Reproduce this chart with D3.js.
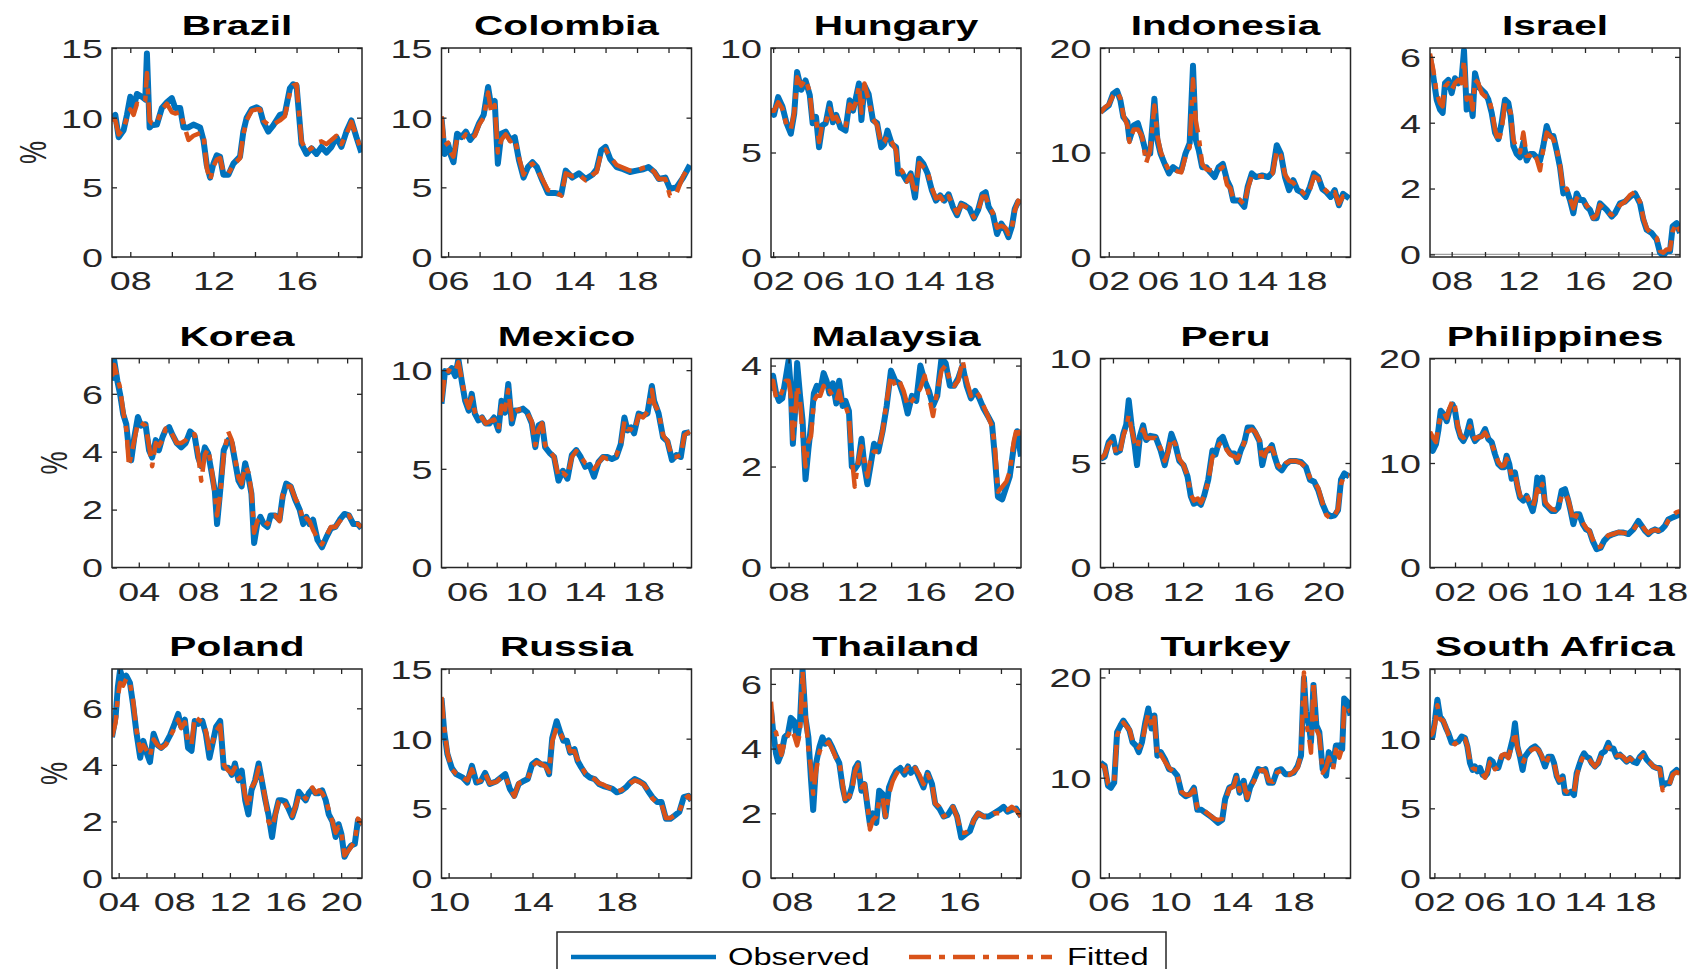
<!DOCTYPE html>
<html>
<head>
<meta charset="utf-8">
<script src="https://cdn.jsdelivr.net/npm/d3@7"></script>
<style>
  body { margin: 0; background: #fff; }
  svg { display: block; }
  text { font-family: "Liberation Sans", Arial, Helvetica, sans-serif; }
</style>
</head>
<body>
<div class="chart"></div>
<script>
// Observed vs fitted, 15 countries (%)

var countries = ["Brazil", "Colombia", "Hungary", "Indonesia", "Israel",
  "Korea", "Mexico", "Malaysia", "Peru", "Philippines",
  "Poland", "Russia", "Thailand", "Turkey", "South Africa"];

var xDomains = [[2007.12, 2019.15], [2005.58, 2021.46], [2001.83, 2021.76], [2001.33, 2021.6], [2006.7, 2021.7],
  [2002.2, 2019.0], [2004.24, 2021.27], [2006.97, 2021.6], [2007.29, 2021.54], [2000.11, 2019.0],
  [2003.52, 2021.5], [2009.66, 2021.58], [2006.99, 2018.96], [2005.46, 2021.73], [2001.65, 2021.6]];

var yDomains = [[0, 15], [0, 15], [0, 10], [0, 20], [-0.08, 6.27],
  [0, 7.22], [0, 10.59], [0, 4.14], [0, 10], [0, 20],
  [0, 7.39], [0, 15], [0, 6.46], [0, 20.84], [0, 15]];

var yTicks = [[0, 5, 10, 15], [0, 5, 10, 15], [0, 5, 10], [0, 10, 20], [0, 2, 4, 6],
  [0, 2, 4, 6], [0, 5, 10], [0, 2, 4], [0, 5, 10], [0, 10, 20],
  [0, 2, 4, 6], [0, 5, 10, 15], [0, 2, 4, 6], [0, 10, 20], [0, 5, 10, 15]];

// years that carry a label (ticks every 2 years)
var xLabelYears = [[2008, 2012, 2016], [2006, 2010, 2014, 2018], [2002, 2006, 2010, 2014, 2018],
  [2002, 2006, 2010, 2014, 2018], [2008, 2012, 2016, 2020],
  [2004, 2008, 2012, 2016], [2006, 2010, 2014, 2018], [2008, 2012, 2016, 2020],
  [2008, 2012, 2016, 2020], [2002, 2006, 2010, 2014, 2018],
  [2004, 2008, 2012, 2016, 2020], [2010, 2014, 2018], [2008, 2012, 2016],
  [2006, 2010, 2014, 2018], [2002, 2006, 2010, 2014, 2018]];

var legendLabels = ["Observed", "Fitted"];

// [year, observed, fitted]
var brazil = [[2007.12,10.0,9.9],[2007.28,10.2,9.8],[2007.44,8.6,8.8],[2007.68,9.1,9.2],[2007.84,10.2,10.0],
  [2008.0,11.5,10.6],[2008.16,10.7,10.2],[2008.32,11.7,11.0],[2008.56,11.5,10.9],[2008.72,11.3,11.2],
  [2008.8,14.6,13.2],[2008.93,9.3,9.8],[2009.04,9.45,9.6],[2009.28,9.5,9.6],[2009.52,10.7,10.6],
  [2009.76,11.1,11.0],[2010.0,11.4,10.4],[2010.16,10.7,10.3],[2010.4,10.7,10.4],[2010.56,9.3,9.6],
  [2010.8,9.3,8.4],[2011.04,9.5,8.7],[2011.36,9.3,8.9],[2011.52,8.4,8.8],[2011.68,6.6,6.4],
  [2011.84,5.7,5.5],[2012.0,6.7,6.5],[2012.16,7.3,7.0],[2012.32,7.2,7.1],[2012.48,5.9,6.1],
  [2012.72,5.9,6.0],[2012.96,6.7,6.6],[2013.28,7.2,7.1],[2013.44,9.0,8.8],[2013.6,10.0,9.8],
  [2013.84,10.6,10.5],[2014.08,10.75,10.6],[2014.24,10.6,10.6],[2014.4,9.7,9.8],[2014.64,9.0,9.5],
  [2014.88,9.45,9.5],[2015.2,10.2,9.8],[2015.44,10.3,10.1],[2015.68,12.1,11.8],[2015.84,12.4,12.3],
  [2016.0,12.3,12.4],[2016.24,8.1,8.3],[2016.48,7.4,7.6],[2016.72,7.8,7.8],[2016.96,7.4,8.2],
  [2017.2,7.9,8.3],[2017.44,7.5,8.1],[2017.68,7.9,8.4],[2017.92,8.6,8.7],[2018.16,7.9,8.1],
  [2018.4,9.0,8.8],[2018.64,9.8,9.7],[2018.88,8.6,8.7],[2019.12,7.5,7.6]];

var colombia = [[2005.58,10.0,10.1],[2005.78,7.4,8.0],[2006.0,8.1,8.2],[2006.17,7.3,7.5],[2006.34,6.8,7.2],
  [2006.57,8.85,8.5],[2006.85,8.6,8.4],[2007.13,9.0,8.8],[2007.4,8.4,8.5],[2007.7,8.85,8.7],
  [2007.97,9.6,9.5],[2008.26,10.2,10.0],[2008.54,12.2,11.8],[2008.74,10.8,10.4],[2008.96,11.2,10.9],
  [2009.16,6.7,7.5],[2009.38,8.85,8.4],[2009.66,9.0,8.8],[2009.95,8.4,8.3],[2010.23,8.6,8.5],
  [2010.51,6.9,7.1],[2010.79,5.7,5.9],[2011.07,6.45,6.5],[2011.36,6.8,6.7],[2011.64,6.45,6.3],
  [2011.98,5.5,5.6],[2012.34,4.6,4.8],[2012.76,4.6,4.7],[2013.19,4.5,4.4],[2013.47,6.2,6.0],
  [2013.89,5.7,5.8],[2014.31,6.0,5.9],[2014.74,5.6,5.5],[2015.16,5.9,5.9],[2015.44,6.3,6.1],
  [2015.72,7.65,7.5],[2016.0,7.9,7.7],[2016.29,7.05,7.2],[2016.71,6.45,6.6],[2017.13,6.3,6.4],
  [2017.55,6.1,6.2],[2017.97,6.2,6.2],[2018.4,6.3,6.4],[2018.73,6.45,6.5],[2019.1,6.1,6.1],
  [2019.38,5.6,5.6],[2019.8,5.7,5.6],[2020.09,4.9,4.4],[2020.51,5.0,4.6],[2020.93,5.7,5.8],
  [2021.36,6.6,6.6]];

var hungary = [[2001.83,7.1,7.0],[2002.07,6.8,7.0],[2002.4,7.65,7.4],[2002.74,7.2,7.1],[2003.07,6.4,6.3],
  [2003.41,5.9,6.1],[2003.68,6.85,6.9],[2003.91,8.85,8.6],[2004.25,8.0,8.2],[2004.58,8.45,8.5],
  [2004.92,7.75,7.9],[2005.15,6.4,6.5],[2005.42,6.7,6.6],[2005.66,5.25,5.5],[2005.92,6.3,6.4],
  [2006.19,6.4,6.4],[2006.5,7.35,7.1],[2006.76,6.45,6.6],[2007.03,6.8,6.7],[2007.37,6.2,6.3],
  [2007.77,6.05,6.2],[2008.1,7.5,7.3],[2008.37,7.0,7.1],[2008.61,7.65,7.4],[2008.84,8.3,8.2],
  [2009.04,6.55,6.9],[2009.28,8.2,8.3],[2009.61,7.8,7.5],[2009.95,6.55,6.6],[2010.29,6.4,6.3],
  [2010.62,5.25,5.4],[2010.86,5.4,5.5],[2011.12,6.05,5.8],[2011.46,5.4,5.5],[2011.8,5.25,5.1],
  [2011.97,4.0,4.3],[2012.3,4.0,4.1],[2012.64,3.65,3.6],[2012.97,4.0,3.9],[2013.31,2.85,3.0],
  [2013.64,4.7,4.5],[2013.98,4.45,4.3],[2014.31,4.0,4.1],[2014.65,3.2,3.3],[2014.98,2.7,2.8],
  [2015.32,2.95,2.9],[2015.65,2.7,2.6],[2015.99,3.0,2.9],[2016.33,2.4,2.5],[2016.66,2.0,2.1],
  [2017.0,2.55,2.5],[2017.33,2.45,2.4],[2017.67,2.3,2.3],[2018.0,1.85,1.9],[2018.34,2.25,2.2],
  [2018.68,3.0,2.9],[2018.94,3.1,2.9],[2019.18,2.4,2.5],[2019.52,2.05,2.1],[2019.85,1.1,1.4],
  [2020.19,1.6,1.5],[2020.52,1.3,1.4],[2020.76,0.95,1.1],[2021.03,1.45,1.4],[2021.26,2.3,2.2],
  [2021.53,2.65,2.7],[2021.76,2.55,2.6]];

var indonesia = [[2001.33,13.9,13.8],[2001.67,14.2,14.3],[2002.0,14.5,14.6],[2002.34,15.6,15.4],[2002.67,15.9,15.8],
  [2002.94,15.0,15.2],[2003.18,13.4,13.6],[2003.51,12.9,12.6],[2003.68,11.2,11.0],[2004.02,12.6,12.2],
  [2004.36,12.8,12.2],[2004.69,11.5,11.6],[2005.03,9.9,9.0],[2005.36,9.9,10.2],[2005.7,15.15,14.5],
  [2005.94,11.2,11.6],[2006.2,9.9,10.1],[2006.54,8.9,9.1],[2006.88,8.0,8.3],[2007.21,8.6,8.4],
  [2007.55,8.3,8.2],[2007.88,8.3,8.1],[2008.22,9.9,9.6],[2008.56,10.9,10.5],[2008.83,18.3,17.0],
  [2009.06,11.2,13.0],[2009.3,10.2,11.5],[2009.57,8.6,8.9],[2009.9,8.6,8.4],[2010.24,8.1,8.3],
  [2010.58,7.65,8.2],[2010.91,8.6,8.3],[2011.25,8.9,8.6],[2011.59,7.35,6.9],[2011.85,6.7,6.6],
  [2012.09,5.4,5.6],[2012.59,5.4,5.5],[2012.99,4.8,5.0],[2013.26,6.7,6.5],[2013.6,8.0,7.8],
  [2013.93,7.65,7.8],[2014.44,7.8,7.7],[2014.94,7.65,7.7],[2015.28,8.1,8.0],[2015.62,10.7,10.2],
  [2015.95,9.9,9.7],[2016.29,7.65,7.9],[2016.62,6.4,7.3],[2016.96,7.35,7.1],[2017.3,6.4,6.6],
  [2017.63,6.2,6.3],[2017.97,5.75,5.9],[2018.31,6.7,6.5],[2018.64,8.0,7.7],[2018.98,7.65,7.5],
  [2019.32,6.5,6.7],[2019.65,6.2,6.3],[2019.99,5.75,5.9],[2020.32,6.4,6.2],[2020.66,4.95,5.1],
  [2021.0,6.05,5.8],[2021.5,5.6,5.6]];

var israel = [[2006.7,6.0,6.1],[2006.9,5.4,5.6],[2007.1,4.7,4.9],[2007.3,4.4,4.6],[2007.46,4.3,4.5],
  [2007.6,5.2,5.1],[2007.8,5.3,5.2],[2008.0,4.9,5.0],[2008.2,5.35,5.2],[2008.4,5.2,5.3],
  [2008.6,5.35,5.2],[2008.74,6.2,5.9],[2008.9,4.4,4.7],[2009.1,4.8,4.9],[2009.26,4.2,4.4],
  [2009.4,5.5,5.3],[2009.6,5.1,5.2],[2009.8,5.0,4.9],[2010.0,4.9,4.8],[2010.2,4.7,4.8],
  [2010.4,4.3,4.4],[2010.6,3.7,3.8],[2010.8,3.5,3.4],[2011.0,4.0,3.8],[2011.2,4.7,4.6],
  [2011.4,4.6,4.5],[2011.54,4.2,4.3],[2011.7,3.3,3.5],[2011.9,3.05,3.2],[2012.1,2.95,3.1],
  [2012.3,3.4,3.7],[2012.5,2.85,3.0],[2012.7,3.05,3.0],[2012.9,3.05,3.1],[2013.1,2.95,2.9],
  [2013.3,2.85,2.55],[2013.5,3.3,3.2],[2013.7,3.9,3.7],[2013.9,3.6,3.6],[2014.1,3.6,3.5],
  [2014.3,3.15,3.2],[2014.5,2.65,2.7],[2014.7,1.85,1.9],[2014.9,1.95,2.0],[2015.1,1.65,1.7],
  [2015.3,1.25,1.4],[2015.5,1.85,1.7],[2015.7,1.65,1.6],[2015.9,1.65,1.6],[2016.1,1.45,1.5],
  [2016.3,1.35,1.3],[2016.5,1.1,1.1],[2016.7,1.1,1.2],[2016.9,1.55,1.5],[2017.1,1.45,1.4],
  [2017.3,1.35,1.3],[2017.6,1.15,1.2],[2017.8,1.25,1.3],[2018.1,1.55,1.5],[2018.4,1.6,1.6],
  [2018.7,1.75,1.8],[2019.0,1.85,1.9],[2019.3,1.55,1.6],[2019.5,1.05,1.1],[2019.7,0.75,0.8],
  [2020.0,0.65,0.6],[2020.3,0.45,0.5],[2020.5,0.05,0.1],[2020.7,-0.05,0.05],[2020.9,0.1,0.15],
  [2021.1,0.1,0.15],[2021.26,0.85,0.7],[2021.5,0.95,0.95],[2021.7,0.65,0.7]];

var korea = [[2002.2,6.45,6.6],[2002.35,7.15,7.0],[2002.56,6.45,6.6],[2002.74,6.0,6.2],[2002.95,5.3,5.4],
  [2003.16,4.95,4.8],[2003.34,4.05,3.5],[2003.49,3.7,3.9],[2003.7,4.5,4.4],[2003.94,5.2,5.0],
  [2004.15,4.9,5.0],[2004.45,4.95,4.9],[2004.69,4.05,4.2],[2004.9,3.8,3.5],[2005.14,4.4,4.3],
  [2005.35,4.05,4.2],[2005.59,4.5,4.4],[2005.8,4.75,4.8],[2006.04,4.85,4.8],[2006.25,4.6,4.6],
  [2006.55,4.3,4.3],[2006.85,4.15,4.3],[2007.15,4.3,4.4],[2007.45,4.7,4.6],[2007.75,4.55,4.6],
  [2007.99,3.8,3.9],[2008.2,3.5,3.0],[2008.44,4.15,3.9],[2008.66,3.95,4.1],[2008.87,3.35,3.5],
  [2009.11,2.65,2.5],[2009.26,1.5,1.8],[2009.47,2.65,2.5],[2009.71,4.05,3.9],[2010.01,4.4,4.7],
  [2010.25,4.3,4.4],[2010.46,3.7,3.8],[2010.7,3.0,3.1],[2010.91,2.8,2.9],[2011.15,3.6,3.5],
  [2011.36,3.15,3.3],[2011.57,2.55,2.6],[2011.75,0.85,1.2],[2011.96,1.5,1.6],[2012.17,1.75,1.7],
  [2012.41,1.5,1.6],[2012.65,1.4,1.5],[2012.86,1.8,1.7],[2013.16,1.8,1.8],[2013.46,1.65,1.6],
  [2013.67,2.45,2.5],[2013.91,2.9,2.8],[2014.21,2.8,2.8],[2014.51,2.35,2.4],[2014.81,2.0,2.1],
  [2015.05,1.5,1.6],[2015.26,1.75,1.7],[2015.47,1.5,1.6],[2015.71,1.65,1.3],[2016.01,0.95,1.0],
  [2016.31,0.7,0.8],[2016.61,1.05,1.1],[2016.91,1.35,1.4],[2017.21,1.4,1.4],[2017.51,1.65,1.6],
  [2017.82,1.85,1.8],[2018.12,1.8,1.8],[2018.42,1.5,1.5],[2018.72,1.5,1.5],[2018.96,1.35,1.4]];

var mexico = [[2004.24,8.3,8.4],[2004.48,9.95,9.8],[2004.72,9.9,10.0],[2004.94,10.1,9.9],[2005.18,9.7,9.9],
  [2005.39,10.55,10.4],[2005.63,9.4,9.5],[2005.85,8.45,8.6],[2006.09,7.95,8.1],[2006.3,8.8,8.6],
  [2006.51,7.8,7.9],[2006.76,7.45,7.5],[2007.0,7.6,7.6],[2007.24,7.3,7.3],[2007.51,7.3,7.4],
  [2007.82,7.6,7.5],[2008.12,6.95,7.0],[2008.33,8.45,8.2],[2008.57,7.85,8.0],[2008.79,9.3,9.0],
  [2009.03,7.3,7.5],[2009.24,7.95,7.9],[2009.48,7.95,8.0],[2009.79,8.05,8.0],[2010.09,7.85,7.8],
  [2010.39,7.3,7.4],[2010.63,6.1,6.2],[2010.85,7.2,7.0],[2011.09,7.3,7.3],[2011.3,6.1,6.2],
  [2011.61,5.8,5.9],[2011.91,5.6,5.6],[2012.21,4.4,4.6],[2012.51,4.9,4.8],[2012.82,4.5,4.6],
  [2013.12,5.7,5.6],[2013.42,5.95,5.9],[2013.72,5.6,5.6],[2014.03,5.1,5.3],[2014.33,5.2,5.2],
  [2014.63,4.6,5.0],[2014.94,5.35,5.3],[2015.24,5.6,5.6],[2015.54,5.6,5.5],[2015.85,5.5,5.6],
  [2016.15,5.6,5.7],[2016.45,6.25,6.2],[2016.7,7.6,7.4],[2016.91,6.95,7.0],[2017.15,7.1,7.0],
  [2017.36,6.8,6.9],[2017.67,7.8,7.7],[2017.97,7.7,7.6],[2018.27,7.8,7.9],[2018.57,9.2,9.0],
  [2018.72,8.45,8.3],[2019.03,7.8,7.9],[2019.33,6.6,6.7],[2019.63,6.4,6.4],[2019.94,5.45,5.6],
  [2020.24,5.7,5.6],[2020.54,5.6,5.7],[2020.79,6.8,6.7],[2021.15,6.85,6.9]];

var malaysia = [[2006.97,3.5,3.6],[2007.09,3.8,3.7],[2007.27,3.45,3.35],[2007.44,3.3,3.35],[2007.63,3.35,3.5],
  [2007.83,3.75,3.7],[2008.0,4.1,3.7],[2008.13,3.55,3.4],[2008.25,2.45,2.55],[2008.37,3.05,2.9],
  [2008.5,4.05,3.6],[2008.67,3.4,3.3],[2008.82,2.9,2.6],[2008.99,1.75,2.0],[2009.16,2.35,2.5],
  [2009.31,2.8,2.6],[2009.48,3.45,3.3],[2009.65,3.6,3.4],[2009.85,3.5,3.4],[2010.05,3.85,3.6],
  [2010.22,3.7,3.45],[2010.39,3.45,3.5],[2010.59,3.65,3.4],[2010.79,3.25,3.3],[2010.96,3.7,3.5],
  [2011.16,3.2,3.2],[2011.33,3.3,3.2],[2011.53,3.1,3.0],[2011.7,2.0,2.2],[2011.87,1.95,1.6],
  [2012.07,2.05,2.1],[2012.27,2.55,2.4],[2012.44,2.0,2.1],[2012.61,1.65,1.8],[2012.81,2.05,2.2],
  [2013.0,2.45,2.3],[2013.25,2.3,2.3],[2013.5,2.7,2.7],[2013.74,3.2,3.3],[2013.99,3.9,3.8],
  [2014.24,3.7,3.6],[2014.48,3.65,3.7],[2014.73,3.4,3.5],[2014.97,3.05,3.2],[2015.22,3.4,3.3],
  [2015.47,3.3,3.4],[2015.71,4.0,3.55],[2015.96,3.7,3.8],[2016.21,3.5,3.4],[2016.45,3.2,3.0],
  [2016.7,3.4,3.5],[2016.95,4.15,3.9],[2017.19,4.05,4.0],[2017.44,3.6,3.7],[2017.69,3.6,3.6],
  [2017.93,3.75,3.7],[2018.18,4.0,4.1],[2018.42,3.6,3.7],[2018.67,3.35,3.4],[2018.92,3.5,3.5],
  [2019.16,3.35,3.4],[2019.41,3.15,3.2],[2019.66,3.0,3.0],[2019.9,2.85,2.8],[2020.07,2.2,2.4],
  [2020.25,1.4,1.5],[2020.5,1.35,1.6],[2020.74,1.6,1.7],[2020.94,1.8,1.9],[2021.18,2.4,2.5],
  [2021.38,2.7,2.8],[2021.6,2.2,2.5]];

var peru = [[2007.29,5.2,5.2],[2007.53,5.3,5.4],[2007.76,6.0,5.9],[2008.0,6.25,6.1],[2008.19,5.5,5.4],
  [2008.4,5.6,5.5],[2008.59,6.4,6.3],[2008.76,6.85,6.7],[2008.9,8.0,7.3],[2009.06,6.8,6.6],
  [2009.23,5.9,6.0],[2009.37,4.9,5.7],[2009.54,6.3,6.2],[2009.72,6.8,6.6],[2009.89,6.1,6.2],
  [2010.13,6.3,6.2],[2010.43,6.25,6.2],[2010.72,5.6,5.7],[2010.95,4.9,5.1],[2011.14,5.6,5.5],
  [2011.33,6.4,6.2],[2011.55,5.9,5.9],[2011.78,5.1,5.2],[2012.02,4.9,4.9],[2012.25,4.35,4.4],
  [2012.44,3.4,3.5],[2012.61,3.05,3.2],[2012.84,3.15,3.3],[2013.01,3.0,3.1],[2013.2,3.45,3.4],
  [2013.43,4.2,4.1],[2013.67,5.6,5.3],[2013.84,5.4,5.5],[2014.07,6.1,5.9],[2014.26,6.25,6.0],
  [2014.5,5.7,5.6],[2014.69,5.45,5.4],[2014.92,5.45,5.3],[2015.09,5.05,5.2],[2015.28,5.6,5.5],
  [2015.49,6.0,6.0],[2015.68,6.7,6.5],[2015.92,6.7,6.6],[2016.11,6.45,6.5],[2016.35,6.05,6.1],
  [2016.51,4.9,5.1],[2016.7,5.6,5.5],[2016.87,5.6,5.7],[2017.06,5.85,5.7],[2017.22,5.3,5.4],
  [2017.41,4.8,4.9],[2017.62,4.65,4.7],[2017.86,4.95,5.0],[2018.1,5.1,5.1],[2018.4,5.1,5.1],
  [2018.71,5.05,5.0],[2019.0,4.8,4.8],[2019.23,4.2,4.3],[2019.47,4.1,4.1],[2019.7,3.7,3.8],
  [2019.94,3.05,3.1],[2020.17,2.6,2.5],[2020.41,2.45,2.35],[2020.64,2.5,2.5],[2020.83,2.75,2.8],
  [2021.0,4.2,4.0],[2021.19,4.5,4.4],[2021.47,4.35,4.4]];

var philippines = [[2000.11,12.75,13.0],[2000.31,11.15,12.5],[2000.56,11.8,12.0],[2000.74,13.1,13.5],[2000.92,15.0,14.5],
  [2001.17,14.65,14.8],[2001.37,14.0,14.3],[2001.57,15.0,15.2],[2001.82,15.6,16.0],[2002.0,15.0,15.4],
  [2002.2,13.4,13.6],[2002.43,12.45,12.6],[2002.63,12.1,12.4],[2002.88,12.75,12.6],[2003.13,14.0,13.5],
  [2003.33,12.6,12.8],[2003.51,12.1,12.3],[2003.76,12.45,12.5],[2004.01,12.6,12.5],[2004.27,13.25,12.9],
  [2004.52,12.3,12.4],[2004.77,12.0,11.8],[2005.02,10.85,11.0],[2005.27,9.9,10.1],[2005.53,9.6,9.7],
  [2005.73,9.6,9.8],[2005.9,10.7,10.4],[2006.1,9.9,9.8],[2006.28,8.5,8.7],[2006.53,9.1,8.9],
  [2006.73,7.65,7.8],[2006.91,6.7,6.9],[2007.16,6.4,6.5],[2007.41,6.85,6.9],[2007.67,6.05,6.2],
  [2007.87,5.4,5.8],[2008.04,6.4,6.5],[2008.22,8.6,7.5],[2008.42,7.35,7.0],[2008.6,8.6,8.0],
  [2008.8,6.05,6.3],[2009.05,5.75,5.9],[2009.3,5.4,5.6],[2009.56,5.4,5.5],[2009.81,5.75,5.9],
  [2010.06,7.35,6.8],[2010.31,7.5,7.1],[2010.56,6.4,6.5],[2010.74,5.4,5.6],[2010.94,4.15,4.4],
  [2011.14,5.1,5.0],[2011.39,5.1,4.9],[2011.65,4.15,4.3],[2011.9,3.65,3.8],[2012.15,3.5,3.5],
  [2012.4,2.55,2.7],[2012.7,1.75,1.9],[2013.01,1.9,2.0],[2013.26,2.55,2.6],[2013.59,3.0,3.1],
  [2013.96,3.2,3.2],[2014.34,3.35,3.4],[2014.72,3.35,3.3],[2015.1,3.2,3.3],[2015.47,3.65,3.6],
  [2015.85,4.45,4.3],[2016.1,4.0,4.1],[2016.36,3.5,3.6],[2016.61,3.2,3.3],[2016.86,3.5,3.5],
  [2017.11,3.65,3.6],[2017.36,3.5,3.5],[2017.62,3.65,3.7],[2017.87,4.0,3.9],[2018.12,4.6,4.5],
  [2018.45,4.8,5.0],[2018.75,4.95,5.3],[2019.0,5.1,5.4]];

var poland = [[2003.52,4.98,5.0],[2003.78,5.7,5.5],[2003.94,6.75,6.4],[2004.1,7.35,6.9],[2004.32,7.0,6.8],
  [2004.55,7.15,7.05],[2004.81,6.9,6.9],[2005.03,6.15,6.3],[2005.29,5.1,5.2],[2005.55,4.25,4.5],
  [2005.77,4.85,4.7],[2006.03,4.4,4.5],[2006.25,4.1,4.3],[2006.51,5.1,4.9],[2006.8,4.7,4.7],
  [2007.06,4.6,4.6],[2007.38,4.75,4.7],[2007.7,5.05,5.0],[2008.02,5.45,5.3],[2008.28,5.8,5.6],
  [2008.5,5.35,5.3],[2008.76,5.6,5.5],[2008.99,4.6,4.8],[2009.24,4.5,4.7],[2009.47,5.55,5.7],
  [2009.73,5.45,5.6],[2010.02,5.55,5.5],[2010.27,5.1,5.2],[2010.53,4.25,4.5],[2010.75,4.75,4.8],
  [2011.01,5.35,5.2],[2011.3,5.55,5.4],[2011.56,3.9,4.0],[2011.88,3.9,3.8],[2012.14,3.65,3.7],
  [2012.36,4.05,3.9],[2012.62,3.45,3.5],[2012.85,3.8,3.6],[2013.1,2.75,2.9],[2013.33,2.25,2.5],
  [2013.55,3.1,3.2],[2013.81,3.45,3.4],[2014.07,4.05,3.9],[2014.29,3.45,3.5],[2014.55,2.75,2.8],
  [2014.77,2.25,2.0],[2015.03,1.45,1.8],[2015.26,2.25,2.2],[2015.51,2.75,2.7],[2015.74,2.75,2.8],
  [2016.0,2.7,2.6],[2016.22,2.45,2.4],[2016.48,2.15,2.2],[2016.71,2.5,2.5],[2016.96,3.05,2.9],
  [2017.19,2.9,3.0],[2017.45,2.75,2.8],[2017.67,3.0,3.0],[2017.93,3.15,3.2],[2018.15,3.0,3.0],
  [2018.41,3.0,3.1],[2018.63,3.1,3.0],[2018.89,2.75,2.8],[2019.11,2.25,2.4],[2019.37,2.0,2.0],
  [2019.6,1.45,1.6],[2019.82,1.9,1.8],[2020.02,1.55,1.6],[2020.24,0.75,0.8],[2020.5,1.0,0.95],
  [2020.72,1.15,1.1],[2020.98,1.2,1.3],[2021.21,2.05,2.1],[2021.53,1.9,1.9]];

var russia = [[2009.66,12.9,13.0],[2009.79,10.5,10.8],[2009.94,8.9,9.0],[2010.15,7.9,7.8],[2010.36,7.45,7.5],
  [2010.68,7.2,7.2],[2010.89,6.85,7.0],[2011.11,8.05,7.8],[2011.32,6.85,6.9],[2011.53,6.95,7.0],
  [2011.74,7.55,7.5],[2011.96,6.75,6.8],[2012.28,6.95,6.9],[2012.49,7.2,7.2],[2012.7,7.45,7.3],
  [2012.92,6.4,6.5],[2013.13,5.9,5.85],[2013.34,6.75,6.8],[2013.55,6.95,6.9],[2013.77,7.1,7.1],
  [2013.98,8.15,8.0],[2014.19,8.4,8.3],[2014.4,8.15,8.2],[2014.62,8.15,8.0],[2014.79,7.45,7.6],
  [2014.94,10.05,9.8],[2015.15,11.25,10.8],[2015.3,10.55,10.4],[2015.47,9.85,10.0],[2015.64,9.85,9.8],
  [2015.79,9.0,9.1],[2016.0,9.25,9.1],[2016.15,8.4,8.5],[2016.32,7.95,8.0],[2016.53,7.45,7.5],
  [2016.74,7.2,7.3],[2016.96,7.1,7.1],[2017.17,6.75,6.8],[2017.38,6.6,6.7],[2017.6,6.5,6.5],
  [2017.81,6.4,6.4],[2018.02,6.15,6.2],[2018.23,6.25,6.3],[2018.45,6.5,6.5],[2018.66,6.85,6.8],
  [2018.87,7.1,7.0],[2019.09,6.95,6.9],[2019.3,6.75,6.7],[2019.51,6.25,6.3],[2019.72,5.8,5.7],
  [2019.94,5.45,5.4],[2020.15,5.45,5.3],[2020.36,4.25,4.3],[2020.57,4.25,4.3],[2020.79,4.5,4.5],
  [2021.0,4.75,4.8],[2021.21,5.8,5.6],[2021.43,5.9,5.9],[2021.58,5.55,5.6]];

var thailand = [[2006.99,5.2,5.45],[2007.09,4.55,4.6],[2007.23,3.85,4.5],[2007.33,3.6,4.2],[2007.49,3.85,3.8],
  [2007.64,4.35,4.2],[2007.8,4.45,4.4],[2007.94,4.95,4.6],[2008.1,4.85,4.4],[2008.24,4.25,4.1],
  [2008.38,4.85,4.5],[2008.5,6.45,6.4],[2008.64,4.95,5.1],[2008.78,4.35,4.0],[2008.9,3.1,3.4],
  [2009.01,2.1,2.6],[2009.15,3.55,3.3],[2009.31,4.05,3.9],[2009.45,4.35,4.1],[2009.59,4.15,4.1],
  [2009.75,4.25,4.2],[2009.91,4.05,4.0],[2010.11,3.75,3.7],[2010.26,3.55,3.6],[2010.42,2.8,2.9],
  [2010.56,2.4,2.3],[2010.72,2.5,2.5],[2010.86,2.8,2.7],[2011.02,3.4,3.3],[2011.16,3.55,3.5],
  [2011.32,2.7,2.8],[2011.47,2.9,2.9],[2011.61,2.2,2.3],[2011.73,1.65,1.5],[2011.87,2.0,1.8],
  [2012.03,1.7,1.9],[2012.17,2.7,2.4],[2012.33,2.6,2.5],[2012.47,1.9,1.9],[2012.64,2.8,2.6],
  [2012.82,3.1,3.0],[2012.98,3.3,3.2],[2013.18,3.4,3.4],[2013.38,3.2,3.3],[2013.55,3.45,3.4],
  [2013.69,3.25,3.3],[2013.89,3.4,3.4],[2014.09,3.1,3.2],[2014.29,2.8,2.9],[2014.49,3.25,3.2],
  [2014.7,2.9,2.9],[2014.85,2.3,2.3],[2015.05,2.15,2.2],[2015.26,1.9,1.9],[2015.46,1.95,2.0],
  [2015.7,2.2,2.2],[2015.9,1.9,1.9],[2016.1,1.25,1.4],[2016.3,1.35,1.4],[2016.51,1.45,1.5],
  [2016.71,1.8,1.8],[2016.91,2.0,2.0],[2017.17,1.9,1.9],[2017.41,1.9,1.9],[2017.67,2.0,2.0],
  [2017.92,2.1,2.0],[2018.12,2.2,2.1],[2018.32,2.05,2.1],[2018.52,2.1,2.2],[2018.72,2.15,2.1],
  [2018.97,1.9,1.9]];

var turkey = [[2005.46,11.5,11.3],[2005.73,11.2,11.0],[2005.95,9.2,9.4],[2006.14,9.0,9.3],[2006.35,9.5,9.6],
  [2006.54,14.55,14.2],[2006.76,15.2,15.0],[2006.95,15.7,15.5],[2007.16,15.2,15.1],[2007.35,14.7,14.8],
  [2007.54,13.55,13.7],[2007.76,13.2,13.3],[2007.95,12.55,13.0],[2008.16,13.55,13.4],[2008.38,15.55,15.2],
  [2008.57,16.9,16.4],[2008.78,14.9,15.2],[2008.97,16.2,16.0],[2009.16,12.2,12.0],[2009.38,12.55,12.3],
  [2009.65,11.85,11.6],[2009.92,10.85,11.0],[2010.19,10.7,10.6],[2010.46,10.2,10.3],[2010.73,8.5,8.6],
  [2011.0,8.15,8.3],[2011.27,8.35,8.3],[2011.54,9.0,8.8],[2011.76,6.8,7.0],[2012.03,6.8,6.9],
  [2012.3,6.5,6.6],[2012.62,6.15,6.2],[2012.89,5.8,5.9],[2013.11,5.5,5.8],[2013.38,5.8,5.9],
  [2013.57,7.85,7.6],[2013.84,9.0,8.9],[2014.11,9.2,9.1],[2014.3,10.2,10.0],[2014.51,8.5,8.7],
  [2014.78,9.7,9.5],[2015.0,7.85,8.0],[2015.19,9.0,8.9],[2015.46,9.85,9.7],[2015.73,10.85,10.6],
  [2016.0,10.7,10.8],[2016.19,10.85,10.6],[2016.41,9.5,9.7],[2016.68,9.5,9.6],[2016.95,10.7,10.5],
  [2017.22,10.85,10.7],[2017.49,10.35,10.4],[2017.76,10.35,10.3],[2018.03,10.5,10.6],[2018.3,11.2,11.0],
  [2018.51,12.2,12.4],[2018.7,19.95,20.5],[2018.84,16.55,15.5],[2019.03,15.2,14.0],[2019.16,13.55,12.5],
  [2019.32,19.25,19.6],[2019.51,15.2,14.8],[2019.7,14.55,14.2],[2019.92,10.85,10.5],[2020.14,10.2,11.0],
  [2020.32,12.55,12.0],[2020.59,11.2,10.8],[2020.78,13.2,12.8],[2021.0,13.2,12.0],[2021.19,12.85,13.0],
  [2021.32,17.9,17.0],[2021.54,17.55,17.3],[2021.73,16.2,16.5]];

var southAfrica = [[2001.65,10.3,10.2],[2001.86,10.15,10.4],[2002.05,11.35,11.0],[2002.24,12.8,12.4],[2002.45,11.6,11.4],
  [2002.71,11.25,11.3],[2002.93,10.75,10.8],[2003.11,10.4,10.3],[2003.38,9.7,9.8],[2003.64,9.7,9.6],
  [2003.91,9.8,9.8],[2004.18,10.15,10.0],[2004.44,10.05,10.0],[2004.63,9.45,9.5],[2004.84,8.25,8.4],
  [2005.05,7.75,7.9],[2005.24,8.0,7.8],[2005.43,7.65,7.8],[2005.64,7.9,7.8],[2005.85,7.4,7.5],
  [2006.04,7.3,7.2],[2006.22,7.5,7.6],[2006.44,8.5,8.3],[2006.65,8.35,8.4],[2006.84,7.9,7.8],
  [2007.1,7.9,8.0],[2007.37,8.7,8.8],[2007.63,8.85,8.9],[2007.9,8.7,8.6],[2008.11,9.45,9.3],
  [2008.3,10.15,9.9],[2008.43,11.1,10.5],[2008.62,9.45,9.4],[2008.83,8.7,8.8],[2009.04,7.75,8.2],
  [2009.23,8.7,8.6],[2009.5,9.05,9.0],[2009.76,9.3,9.2],[2010.03,9.45,9.3],[2010.3,9.2,9.2],
  [2010.56,8.7,8.8],[2010.83,8.0,8.1],[2011.09,8.7,8.6],[2011.36,8.7,8.5],[2011.55,8.25,8.3],
  [2011.76,7.3,7.4],[2011.97,6.9,7.0],[2012.24,7.3,7.1],[2012.42,6.1,6.3],[2012.69,6.1,6.1],
  [2012.95,6.2,6.2],[2013.14,5.95,6.1],[2013.35,7.5,7.3],[2013.56,8.1,8.0],[2013.75,8.6,8.5],
  [2013.94,8.95,8.8],[2014.15,8.7,8.7],[2014.36,8.6,8.5],[2014.55,8.25,8.3],[2014.81,8.0,8.0],
  [2015.08,8.25,8.3],[2015.35,8.95,8.8],[2015.61,9.1,9.0],[2015.88,9.7,9.4],[2016.06,9.3,9.3],
  [2016.28,9.3,9.1],[2016.54,8.7,8.8],[2016.81,8.85,8.8],[2017.07,8.6,8.7],[2017.34,8.35,8.4],
  [2017.61,8.6,8.6],[2017.87,8.35,8.4],[2018.14,8.25,8.3],[2018.4,8.7,8.6],[2018.67,8.95,8.8],
  [2018.94,8.5,8.5],[2019.2,8.25,8.3],[2019.47,8.0,8.0],[2019.74,7.9,7.9],[2020.0,7.9,7.8],
  [2020.21,6.6,6.3],[2020.48,6.8,6.5],[2020.75,6.8,6.7],[2021.01,7.5,7.4],[2021.33,7.75,7.6],
  [2021.6,7.5,7.5]];

var seriesList = [brazil, colombia, hungary, indonesia, israel, korea, mexico, malaysia,
  peru, philippines, poland, russia, thailand, turkey, southAfrica];

// layout
var svgWidth = 1690;
var svgHeight = 969;
var panelLeft = 112, panelTop = 48;
var colStep = 329.5, rowStep = 310.5;
var panelW = 250, panelH = 209;
var stretch = 1.45;          // text in the picture is wider than normal
var axisColor = "#262626";
var blue = "#0072BD", orange = "#D95319";
var dashDot = "22,8,6,8";

var svg = d3.select(".chart")
  .append("svg")
  .attr("width", svgWidth)
  .attr("height", svgHeight);

countries.forEach(function(name, i) {
  var row = Math.floor(i / 5), col = i % 5;
  var data = seriesList[i];

  var chartGroup = svg.append("g")
    .attr("transform", `translate(${panelLeft + col * colStep}, ${panelTop + row * rowStep})`);

  var xScale = d3.scaleLinear().domain(xDomains[i]).range([0, panelW]);
  var yScale = d3.scaleLinear().domain(yDomains[i]).range([panelH, 0]);

  chartGroup.append("clipPath").attr("id", "clip" + i)
    .append("rect").attr("width", panelW).attr("height", panelH);

  var plotArea = chartGroup.append("g").attr("clip-path", `url(#clip${i})`);

  // zero line (only where the axis goes below 0)
  if (yDomains[i][0] < 0) {
    plotArea.append("line")
      .attr("x1", 0).attr("x2", panelW)
      .attr("y1", yScale(0)).attr("y2", yScale(0))
      .attr("stroke", "#a0a0a0").attr("stroke-width", 1.2);
  }

  var obsLine = d3.line().x(d => xScale(d[0])).y(d => yScale(d[1]));
  var fitLine = d3.line().x(d => xScale(d[0])).y(d => yScale(d[2]));

  plotArea.append("path").datum(data)
    .attr("d", obsLine)
    .attr("fill", "none").attr("stroke", blue).attr("stroke-width", 6)
    .attr("stroke-linejoin", "round");

  plotArea.append("path").datum(data)
    .attr("d", fitLine)
    .attr("fill", "none").attr("stroke", orange).attr("stroke-width", 4.5)
    .attr("stroke-dasharray", dashDot)
    .attr("stroke-linejoin", "round");

  // axes: ticks every 2 years, inside the box on all four sides
  var x0 = xDomains[i][0], x1 = xDomains[i][1];
  var evenYears = d3.range(Math.ceil(x0 / 2) * 2, x1, 2);
  var labels = xLabelYears[i];

  var bottomAxis = d3.axisBottom(xScale).tickValues(evenYears)
    .tickSizeInner(-5).tickSizeOuter(0)
    .tickFormat(d => labels.indexOf(d) >= 0 ? String(d).slice(2) : "");
  var topAxis = d3.axisTop(xScale).tickValues(evenYears)
    .tickSizeInner(-5).tickSizeOuter(0).tickFormat("");
  var leftAxis = d3.axisLeft(yScale).tickValues(yTicks[i])
    .tickSizeInner(-5).tickSizeOuter(0).tickFormat(d => String(d));
  var rightAxis = d3.axisRight(yScale).tickValues(yTicks[i])
    .tickSizeInner(-5).tickSizeOuter(0).tickFormat("");

  var gb = chartGroup.append("g").attr("transform", `translate(0, ${panelH})`).call(bottomAxis);
  var gt = chartGroup.append("g").call(topAxis);
  var gl = chartGroup.append("g").call(leftAxis);
  var gr = chartGroup.append("g").attr("transform", `translate(${panelW}, 0)`).call(rightAxis);

  [gb, gt, gl, gr].forEach(function(g) {
    g.select(".domain").remove();
    g.selectAll(".tick line").attr("stroke", axisColor).attr("stroke-width", 1.3);
  });

  gb.selectAll(".tick text")
    .attr("y", 0).attr("dy", null)
    .attr("transform", `translate(0, 33) scale(${stretch}, 1)`)
    .attr("font-size", 26).attr("fill", axisColor)
    .attr("font-family", "'Liberation Sans', Arial, sans-serif");

  gl.selectAll(".tick text")
    .attr("x", 0).attr("dy", "0.36em")
    .attr("transform", `translate(-9, 0) scale(${stretch}, 1)`)
    .attr("font-size", 26).attr("fill", axisColor)
    .attr("font-family", "'Liberation Sans', Arial, sans-serif");

  chartGroup.append("rect")
    .attr("width", panelW).attr("height", panelH)
    .attr("fill", "none").attr("stroke", axisColor).attr("stroke-width", 1.5);

  // title
  chartGroup.append("text")
    .attr("transform", `translate(${panelW / 2}, -13) scale(${stretch}, 1)`)
    .attr("text-anchor", "middle")
    .attr("font-size", 28).attr("font-weight", "bold").attr("fill", "#000")
    .text(name);

  // y label on the first column
  if (col === 0) {
    var digits = d3.max(yTicks[i], d => String(d).length);
    chartGroup.append("text")
      .attr("transform", `translate(${-9 - digits * 21 - 28}, ${panelH / 2}) scale(${stretch}, 1) rotate(-90)`)
      .attr("text-anchor", "middle").attr("dy", "0.35em")
      .attr("font-size", 26).attr("fill", axisColor)
      .text("%");
  }
});

// Legend
var legend = svg.append("g").attr("transform", "translate(557, 932)");

legend.append("rect")
  .attr("width", 609).attr("height", 60)
  .attr("fill", "#fff").attr("stroke", axisColor).attr("stroke-width", 1.5);

legend.append("line")
  .attr("x1", 14).attr("x2", 159).attr("y1", 25).attr("y2", 25)
  .attr("stroke", blue).attr("stroke-width", 4.5);

legend.append("line")
  .attr("x1", 352).attr("x2", 495).attr("y1", 25).attr("y2", 25)
  .attr("stroke", orange).attr("stroke-width", 4.5)
  .attr("stroke-dasharray", dashDot);

legend.append("text")
  .attr("transform", `translate(171, 33) scale(1.42, 1)`)
  .attr("font-size", 23).attr("fill", "#000")
  .text(legendLabels[0]);

legend.append("text")
  .attr("transform", `translate(510, 33) scale(1.42, 1)`)
  .attr("font-size", 23).attr("fill", "#000")
  .text(legendLabels[1]);
</script>
</body>
</html>
